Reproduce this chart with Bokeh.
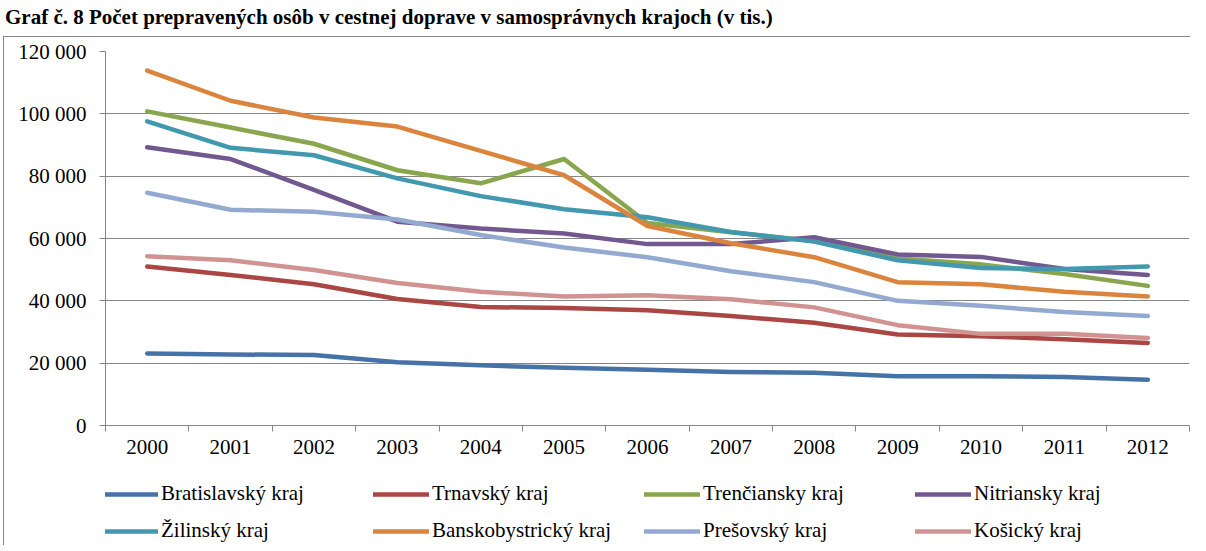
from bokeh.plotting import figure
from bokeh.models import FixedTicker, Legend, LegendItem, Div
from bokeh.layouts import column
from bokeh.embed import file_html
from bokeh.resources import INLINE

title_text = "Graf č. 8 Počet prepravených osôb v cestnej doprave v samosprávnych krajoch (v tis.)"

years = ["2000", "2001", "2002", "2003", "2004", "2005", "2006",
         "2007", "2008", "2009", "2010", "2011", "2012"]

y_ticks = [0, 20000, 40000, 60000, 80000, 100000, 120000]
y_tick_labels = ["0", "20 000", "40 000", "60 000", "80 000", "100 000", "120 000"]

series_names = ["Bratislavský kraj", "Trnavský kraj", "Trenčiansky kraj", "Nitriansky kraj",
                "Žilinský kraj", "Banskobystrický kraj", "Prešovský kraj", "Košický kraj"]

bratislavsky = [23100, 22800, 22600, 20300, 19300, 18500, 17900, 17200, 16900, 15800, 15800, 15600, 14700]
trnavsky = [51000, 48300, 45300, 40600, 38000, 37700, 37000, 35100, 33000, 29200, 28600, 27700, 26500]
trenciansky = [100800, 95600, 90400, 81900, 77700, 85500, 65000, 62000, 59200, 53600, 51700, 48600, 44800]
nitriansky = [89300, 85500, 75600, 65400, 63200, 61600, 58200, 58200, 60400, 54900, 54100, 50200, 48300]
zilinsky = [97600, 89100, 86700, 79300, 73600, 69400, 66800, 62100, 59000, 53000, 50500, 50200, 51000]
banskobystricky = [113900, 104200, 98800, 95900, 88100, 80300, 64000, 58500, 54000, 46000, 45300, 42900, 41400]
presovsky = [74700, 69200, 68600, 66100, 61100, 57100, 54000, 49500, 46000, 40000, 38400, 36400, 35100]
kosicky = [54300, 53000, 49900, 45700, 42900, 41400, 41800, 40500, 37900, 32200, 29400, 29400, 28100]

series_values = [bratislavsky, trnavsky, trenciansky, nitriansky,
                 zilinsky, banskobystricky, presovsky, kosicky]
colors = ["#4572A7", "#AA4643", "#89A54E", "#71588F",
          "#4198AF", "#DB843D", "#93A9CF", "#D19392"]

FONT = "Liberation Serif"
GREY = "#868686"
LW = 4.5

# category centres and boundaries
x_centers = [i + 0.5 for i in range(len(years))]
x_bounds = list(range(len(years) + 1))

title_div = Div(
    text=('<span style="font-family:\'Liberation Serif\',serif;font-weight:bold;'
          'font-size:21px;line-height:24px;color:black;white-space:nowrap;">'
          + title_text + '</span>'),
    width=1190, height=26,
)

# ---------------- main chart ----------------
p = figure(
    width=1187, height=428,
    x_range=(0, len(years)), y_range=(0, 120000),
    output_backend="svg", toolbar_location=None,
    min_border_left=101, min_border_right=2, min_border_top=14, min_border_bottom=40,
    margin=(0, 0, 0, 3),
)
p.styles = {"border-top": "1px solid " + GREY, "border-left": "1px solid " + GREY}
p.outline_line_color = None
p.background_fill_color = "white"
p.border_fill_color = "white"

for name, vals, col in zip(series_names, series_values, colors):
    p.line(x_centers, vals, line_color=col, line_width=LW,
           line_cap="round", line_join="round")

# y axis
yt = FixedTicker(ticks=y_ticks)
p.yaxis.ticker = yt
p.yaxis.major_label_overrides = {v: s for v, s in zip(y_ticks, y_tick_labels)}
p.yaxis.axis_line_color = GREY
p.yaxis.major_tick_line_color = GREY
p.yaxis.major_tick_out = 6
p.yaxis.major_tick_in = 0
p.yaxis.minor_tick_out = 0
p.yaxis.minor_tick_in = 0
p.yaxis.major_label_standoff = 13
p.yaxis.major_label_text_font = FONT
p.yaxis.major_label_text_font_size = "21px"
p.yaxis.major_label_text_color = "black"

# x axis
xt = FixedTicker(ticks=x_centers, minor_ticks=x_bounds)
p.xaxis.ticker = xt
p.xaxis.major_label_overrides = {c: y for c, y in zip(x_centers, years)}
p.xaxis.axis_line_color = GREY
p.xaxis.major_tick_out = 0
p.xaxis.major_tick_in = 0
p.xaxis.minor_tick_out = 6
p.xaxis.minor_tick_in = 0
p.xaxis.minor_tick_line_color = GREY
p.xaxis.major_label_standoff = 8
p.xaxis.major_label_text_font = FONT
p.xaxis.major_label_text_font_size = "21px"
p.xaxis.major_label_text_color = "black"

p.xgrid.visible = False
p.ygrid.ticker = yt
p.ygrid.grid_line_color = GREY
p.ygrid.grid_line_width = 1

# ---------------- legend panel ----------------
lg = figure(
    width=1187, height=81,
    x_range=(0, len(years)), y_range=(-2, -1),
    x_axis_location=None, y_axis_location=None,
    output_backend="svg", toolbar_location=None,
    min_border=0, margin=(0, 0, 0, 3),
)
lg.styles = {"border-left": "1px solid " + GREY}
lg.grid.visible = False
lg.outline_line_color = None
lg.background_fill_color = "white"
lg.border_fill_color = "white"

items = []
for name, vals, col in zip(series_names, series_values, colors):
    r = lg.line(x_centers, vals, line_color=col, line_width=LW, line_cap="round")
    items.append(LegendItem(label=name, renderers=[r]))

legend = Legend(
    items=items,
    location=(-3, 2),
    orientation="horizontal", ncols=4,
    glyph_width=56, glyph_height=24, label_height=24, label_width=200,
    label_standoff=3, spacing=12, padding=0, margin=0,
    label_text_font=FONT, label_text_font_size="21px", label_text_color="black",
    background_fill_alpha=0, border_line_color=None,
)
lg.add_layout(legend)

layout = column(title_div, p, lg)
open("out.html", "w").write(file_html(layout, INLINE))
